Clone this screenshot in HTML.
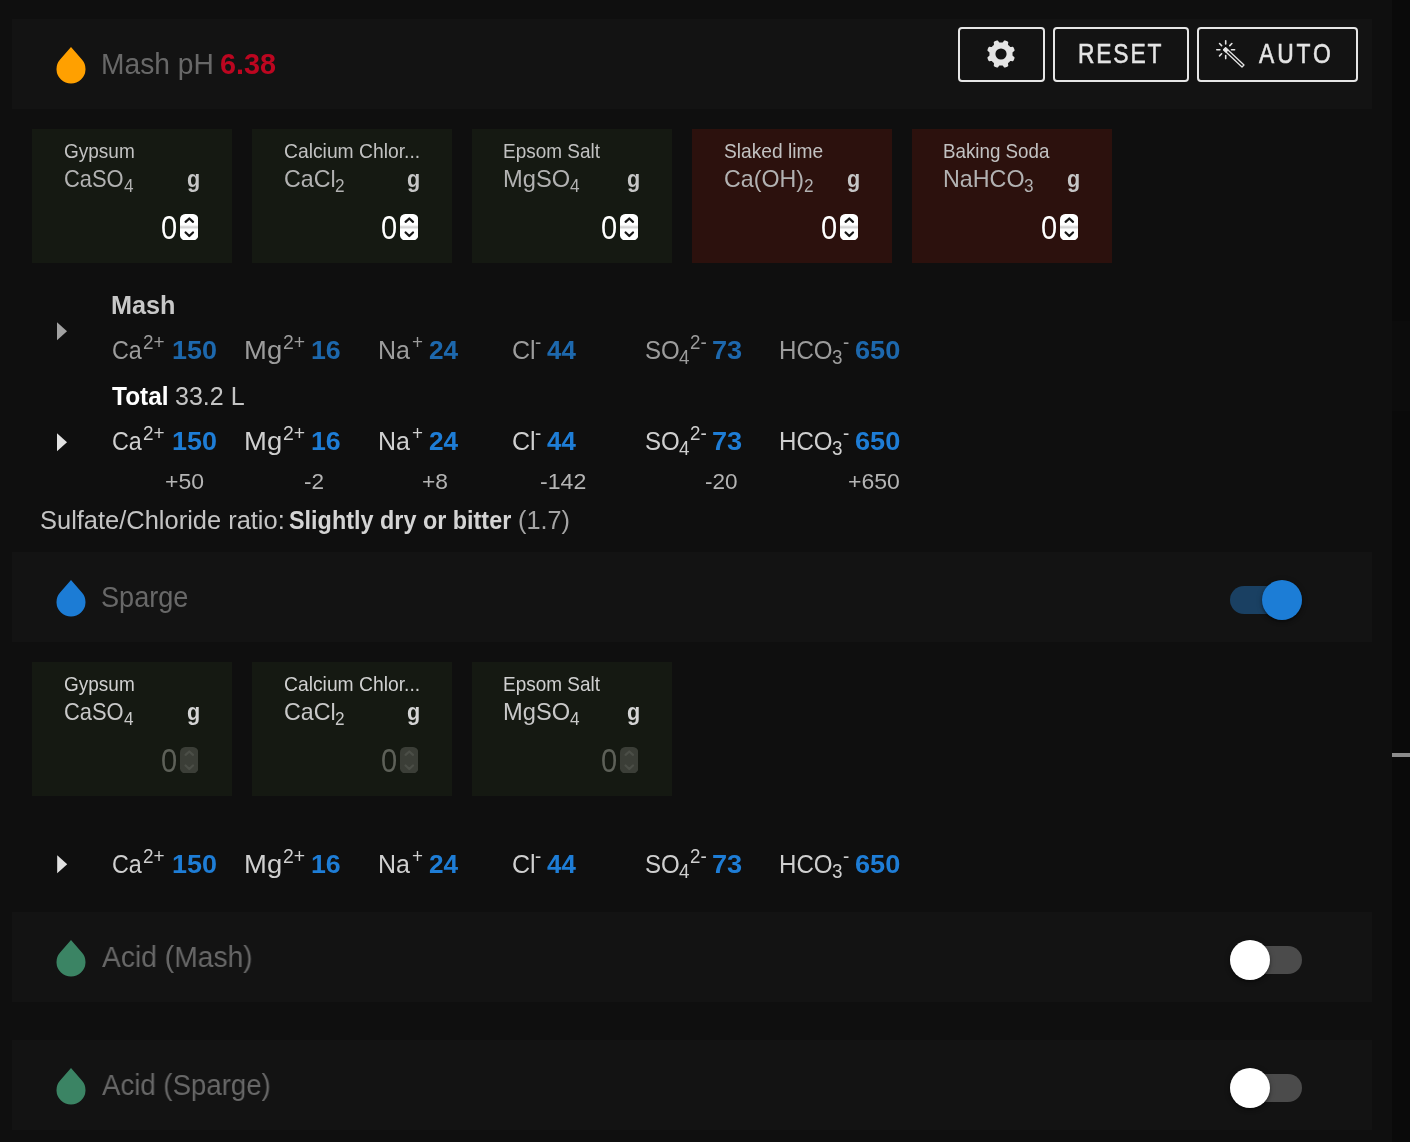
<!DOCTYPE html>
<html lang="en"><head><meta charset="utf-8"><title>Water</title>
<style>
html,body{margin:0;padding:0;background:#0f0f0f;}
body{width:1410px;height:1142px;position:relative;overflow:hidden;font-family:"Liberation Sans",sans-serif;}
.a{position:absolute;display:block;}
.t{position:absolute;display:block;white-space:nowrap;line-height:1;transform-origin:0 0;font-family:"Liberation Sans",sans-serif;}
.bar{left:12px;width:1360px;height:90px;background:#131313;}
.btn{box-sizing:border-box;border:2px solid #e6e6e6;border-radius:4px;}
.th{width:40px;height:40px;border-radius:50%;box-shadow:0 2px 3px rgba(0,0,0,.35),0 1px 6px rgba(0,0,0,.2);}
#L{position:absolute;left:0;top:0;width:1410px;height:1142px;will-change:transform;}
</style></head><body><div id="L">
<svg width="0" height="0" style="position:absolute"><defs><linearGradient id="spg" x1="0" y1="0" x2="0" y2="1"><stop offset="0" stop-color="#fff"/><stop offset=".5" stop-color="#cfcfcf"/><stop offset="1" stop-color="#fff"/></linearGradient></defs></svg>
<div class="a" style="left:1392px;top:0;width:18px;height:1142px;background:#0a0a0a"></div>
<div class="a" style="left:1392px;top:321px;width:18px;height:90px;background:#0c0c0c"></div>
<div class="a" style="left:1392px;top:753px;width:18px;height:4px;background:#8c8c8c"></div>
<div class="a bar" style="top:19px"></div>
<div class="a bar" style="top:552px"></div>
<div class="a bar" style="top:912px"></div>
<div class="a bar" style="top:1040px"></div>
<svg class="a" style="left:55px;top:44.9px" width="32" height="42" viewBox="55 44.9 32 42"><path fill="#ffa000" d="M71 46.9 L60.10 59.34 A14.5 14.5 0 1 0 81.90 59.34 Z"/></svg>
<svg class="a" style="left:55px;top:577.9px" width="32" height="42" viewBox="55 577.9 32 42"><path fill="#1c7cd5" d="M71 579.9 L60.10 592.34 A14.5 14.5 0 1 0 81.90 592.34 Z"/></svg>
<svg class="a" style="left:55px;top:937.9px" width="32" height="42" viewBox="55 937.9 32 42"><path fill="#3b8464" d="M71 939.9 L60.10 952.34 A14.5 14.5 0 1 0 81.90 952.34 Z"/></svg>
<svg class="a" style="left:55px;top:1065.9px" width="32" height="42" viewBox="55 1065.9 32 42"><path fill="#3b8464" d="M71 1067.9 L60.10 1080.34 A14.5 14.5 0 1 0 81.90 1080.34 Z"/></svg>
<div class="a btn" style="left:958px;top:27px;width:87px;height:55px"></div>
<div class="a btn" style="left:1053px;top:27px;width:136px;height:55px"></div>
<div class="a btn" style="left:1197px;top:27px;width:161px;height:55px"></div>
<svg class="a" style="left:984.1px;top:37.2px" width="34" height="34" viewBox="984.1 37.2 34 34"><path fill="#e4e4e4" fill-rule="evenodd" d="M1001.10 42.66 L1001.40 42.67 L1001.70 42.67 L1002.01 42.69 L1002.31 42.69 L1002.62 42.64 L1002.96 42.46 L1003.37 41.96 L1003.86 41.24 L1004.32 40.77 L1004.74 40.63 L1005.11 40.66 L1005.47 40.74 L1005.83 40.85 L1006.18 40.98 L1006.52 41.11 L1006.86 41.26 L1007.20 41.42 L1007.52 41.59 L1007.84 41.79 L1008.12 42.04 L1008.32 42.42 L1008.32 43.09 L1008.15 43.94 L1008.09 44.58 L1008.20 44.95 L1008.39 45.20 L1008.60 45.42 L1008.82 45.62 L1009.04 45.83 L1009.26 46.04 L1009.47 46.26 L1009.68 46.48 L1009.88 46.70 L1010.10 46.91 L1010.35 47.10 L1010.72 47.21 L1011.36 47.15 L1012.21 46.98 L1012.88 46.98 L1013.26 47.18 L1013.51 47.46 L1013.71 47.78 L1013.88 48.10 L1014.04 48.44 L1014.19 48.78 L1014.32 49.12 L1014.45 49.47 L1014.56 49.83 L1014.64 50.19 L1014.67 50.56 L1014.53 50.98 L1014.06 51.44 L1013.34 51.93 L1012.84 52.34 L1012.66 52.68 L1012.61 52.99 L1012.61 53.29 L1012.63 53.60 L1012.63 53.90 L1012.64 54.20 L1012.63 54.50 L1012.63 54.80 L1012.61 55.11 L1012.61 55.41 L1012.66 55.72 L1012.84 56.06 L1013.34 56.47 L1014.06 56.96 L1014.53 57.42 L1014.67 57.84 L1014.64 58.21 L1014.56 58.57 L1014.45 58.93 L1014.32 59.28 L1014.19 59.62 L1014.04 59.96 L1013.88 60.30 L1013.71 60.62 L1013.51 60.94 L1013.26 61.22 L1012.88 61.42 L1012.21 61.42 L1011.36 61.25 L1010.72 61.19 L1010.35 61.30 L1010.10 61.49 L1009.88 61.70 L1009.68 61.92 L1009.47 62.14 L1009.26 62.36 L1009.04 62.57 L1008.82 62.78 L1008.60 62.98 L1008.39 63.20 L1008.20 63.45 L1008.09 63.82 L1008.15 64.46 L1008.32 65.31 L1008.32 65.98 L1008.12 66.36 L1007.84 66.61 L1007.52 66.81 L1007.20 66.98 L1006.86 67.14 L1006.52 67.29 L1006.18 67.42 L1005.83 67.55 L1005.47 67.66 L1005.11 67.74 L1004.74 67.77 L1004.32 67.63 L1003.86 67.16 L1003.37 66.44 L1002.96 65.94 L1002.62 65.76 L1002.31 65.71 L1002.01 65.71 L1001.70 65.73 L1001.40 65.73 L1001.10 65.74 L1000.80 65.73 L1000.50 65.73 L1000.19 65.71 L999.89 65.71 L999.58 65.76 L999.24 65.94 L998.83 66.44 L998.34 67.16 L997.88 67.63 L997.46 67.77 L997.09 67.74 L996.73 67.66 L996.37 67.55 L996.02 67.42 L995.68 67.29 L995.34 67.14 L995.00 66.98 L994.68 66.81 L994.36 66.61 L994.08 66.36 L993.88 65.98 L993.88 65.31 L994.05 64.46 L994.11 63.82 L994.00 63.45 L993.81 63.20 L993.60 62.98 L993.38 62.78 L993.16 62.57 L992.94 62.36 L992.73 62.14 L992.52 61.92 L992.32 61.70 L992.10 61.49 L991.85 61.30 L991.48 61.19 L990.84 61.25 L989.99 61.42 L989.32 61.42 L988.94 61.22 L988.69 60.94 L988.49 60.62 L988.32 60.30 L988.16 59.96 L988.01 59.62 L987.88 59.28 L987.75 58.93 L987.64 58.57 L987.56 58.21 L987.53 57.84 L987.67 57.42 L988.14 56.96 L988.86 56.47 L989.36 56.06 L989.54 55.72 L989.59 55.41 L989.59 55.11 L989.57 54.80 L989.57 54.50 L989.56 54.20 L989.57 53.90 L989.57 53.60 L989.59 53.29 L989.59 52.99 L989.54 52.68 L989.36 52.34 L988.86 51.93 L988.14 51.44 L987.67 50.98 L987.53 50.56 L987.56 50.19 L987.64 49.83 L987.75 49.47 L987.88 49.12 L988.01 48.78 L988.16 48.44 L988.32 48.10 L988.49 47.78 L988.69 47.46 L988.94 47.18 L989.32 46.98 L989.99 46.98 L990.84 47.15 L991.48 47.21 L991.85 47.10 L992.10 46.91 L992.32 46.70 L992.52 46.48 L992.73 46.26 L992.94 46.04 L993.16 45.83 L993.38 45.62 L993.60 45.42 L993.81 45.20 L994.00 44.95 L994.11 44.58 L994.05 43.94 L993.88 43.09 L993.88 42.42 L994.08 42.04 L994.36 41.79 L994.68 41.59 L995.00 41.42 L995.34 41.26 L995.68 41.11 L996.02 40.98 L996.37 40.85 L996.73 40.74 L997.09 40.66 L997.46 40.63 L997.88 40.77 L998.34 41.24 L998.83 41.96 L999.24 42.46 L999.58 42.64 L999.89 42.69 L1000.19 42.69 L1000.50 42.67 L1000.80 42.67 Z M1006.70 54.2 A5.6 5.6 0 1 0 995.50 54.2 A5.6 5.6 0 1 0 1006.70 54.2 Z"/></svg>
<svg class="a" style="left:1212px;top:36px" width="36" height="36" viewBox="1212 36 36 36"><path d="M1225.70 43.90 L1225.70 40.80 M1229.80 45.60 L1231.85 43.55 M1231.50 49.70 L1234.60 49.70 M1225.70 55.50 L1225.70 58.60 M1221.60 53.80 L1219.55 55.85 M1219.90 49.70 L1216.80 49.70 M1221.60 45.60 L1219.55 43.55" stroke="#e4e4e4" stroke-width="1.6" stroke-linecap="round" fill="none"/><path d="M1225.59 47.81 L1243.99 65.01 L1242.01 66.99 L1223.61 49.79 Z" stroke="#e4e4e4" stroke-width="1.3" fill="#131313" stroke-linejoin="round"/><path d="M1225.59 47.81 L1227.99 50.21 L1226.01 52.19 L1223.61 49.79 Z" fill="#e4e4e4" stroke="#e4e4e4" stroke-width="1.15" stroke-linejoin="round"/></svg>
<div class="a" style="left:32px;top:129px;width:200px;height:134px;background:#151912"></div>
<svg class="a" style="left:179.8px;top:213.7px" width="18.3" height="26.4" viewBox="0 0 18.3 26.4"><rect width="18.3" height="26.4" rx="5.2" fill="#ffffff"/><rect x="0" y="11.00" width="18.3" height="4.4" fill="url(#spg)"/><path d="M5.6000000000000005 7.8 L9.3 4.5 L13.0 7.8 M5.6000000000000005 18.5 L9.3 22.0 L13.0 18.5" fill="none" stroke="#161616" stroke-width="2.3" stroke-linecap="round" stroke-linejoin="round"/></svg>
<div class="a" style="left:252px;top:129px;width:200px;height:134px;background:#151912"></div>
<svg class="a" style="left:399.8px;top:213.7px" width="18.3" height="26.4" viewBox="0 0 18.3 26.4"><rect width="18.3" height="26.4" rx="5.2" fill="#ffffff"/><rect x="0" y="11.00" width="18.3" height="4.4" fill="url(#spg)"/><path d="M5.6000000000000005 7.8 L9.3 4.5 L13.0 7.8 M5.6000000000000005 18.5 L9.3 22.0 L13.0 18.5" fill="none" stroke="#161616" stroke-width="2.3" stroke-linecap="round" stroke-linejoin="round"/></svg>
<div class="a" style="left:472px;top:129px;width:200px;height:134px;background:#151912"></div>
<svg class="a" style="left:619.8px;top:213.7px" width="18.3" height="26.4" viewBox="0 0 18.3 26.4"><rect width="18.3" height="26.4" rx="5.2" fill="#ffffff"/><rect x="0" y="11.00" width="18.3" height="4.4" fill="url(#spg)"/><path d="M5.6000000000000005 7.8 L9.3 4.5 L13.0 7.8 M5.6000000000000005 18.5 L9.3 22.0 L13.0 18.5" fill="none" stroke="#161616" stroke-width="2.3" stroke-linecap="round" stroke-linejoin="round"/></svg>
<div class="a" style="left:692px;top:129px;width:200px;height:134px;background:#2c110d"></div>
<svg class="a" style="left:839.8px;top:213.7px" width="18.3" height="26.4" viewBox="0 0 18.3 26.4"><rect width="18.3" height="26.4" rx="5.2" fill="#ffffff"/><rect x="0" y="11.00" width="18.3" height="4.4" fill="url(#spg)"/><path d="M5.6000000000000005 7.8 L9.3 4.5 L13.0 7.8 M5.6000000000000005 18.5 L9.3 22.0 L13.0 18.5" fill="none" stroke="#161616" stroke-width="2.3" stroke-linecap="round" stroke-linejoin="round"/></svg>
<div class="a" style="left:912px;top:129px;width:200px;height:134px;background:#2c110d"></div>
<svg class="a" style="left:1059.8px;top:213.7px" width="18.3" height="26.4" viewBox="0 0 18.3 26.4"><rect width="18.3" height="26.4" rx="5.2" fill="#ffffff"/><rect x="0" y="11.00" width="18.3" height="4.4" fill="url(#spg)"/><path d="M5.6000000000000005 7.8 L9.3 4.5 L13.0 7.8 M5.6000000000000005 18.5 L9.3 22.0 L13.0 18.5" fill="none" stroke="#161616" stroke-width="2.3" stroke-linecap="round" stroke-linejoin="round"/></svg>
<div class="a" style="left:32px;top:662px;width:200px;height:134px;background:#151912"></div>
<svg class="a" style="left:179.8px;top:746.7px" width="18.3" height="26.4" viewBox="0 0 18.3 26.4"><rect width="18.3" height="26.4" rx="5.2" fill="#3b3e37"/><path d="M5.6000000000000005 7.8 L9.3 4.5 L13.0 7.8 M5.6000000000000005 18.5 L9.3 22.0 L13.0 18.5" fill="none" stroke="#4b4e47" stroke-width="2.3" stroke-linecap="round" stroke-linejoin="round"/></svg>
<div class="a" style="left:252px;top:662px;width:200px;height:134px;background:#151912"></div>
<svg class="a" style="left:399.8px;top:746.7px" width="18.3" height="26.4" viewBox="0 0 18.3 26.4"><rect width="18.3" height="26.4" rx="5.2" fill="#3b3e37"/><path d="M5.6000000000000005 7.8 L9.3 4.5 L13.0 7.8 M5.6000000000000005 18.5 L9.3 22.0 L13.0 18.5" fill="none" stroke="#4b4e47" stroke-width="2.3" stroke-linecap="round" stroke-linejoin="round"/></svg>
<div class="a" style="left:472px;top:662px;width:200px;height:134px;background:#151912"></div>
<svg class="a" style="left:619.8px;top:746.7px" width="18.3" height="26.4" viewBox="0 0 18.3 26.4"><rect width="18.3" height="26.4" rx="5.2" fill="#3b3e37"/><path d="M5.6000000000000005 7.8 L9.3 4.5 L13.0 7.8 M5.6000000000000005 18.5 L9.3 22.0 L13.0 18.5" fill="none" stroke="#4b4e47" stroke-width="2.3" stroke-linecap="round" stroke-linejoin="round"/></svg>
<svg class="a" style="left:56px;top:321px" width="14" height="22" viewBox="56 321 14 22"><path fill="#a2a2a2" d="M57.0 322.2 L67.0 331.2 L57.0 340.2 Z"/></svg>
<svg class="a" style="left:56px;top:432px" width="14" height="22" viewBox="56 432 14 22"><path fill="#e2e2e2" d="M57.0 433.3 L67.0 442.3 L57.0 451.3 Z"/></svg>
<svg class="a" style="left:56px;top:854px" width="14" height="22" viewBox="56 854 14 22"><path fill="#e2e2e2" d="M57.2 855.3 L67.2 864.3 L57.2 873.3 Z"/></svg>
<div class="a" style="left:1230px;top:586px;width:72px;height:28px;border-radius:14px;background:#1a4062"></div><div class="a th" style="left:1262px;top:580px;background:#1c7dd6"></div>
<div class="a" style="left:1230px;top:946px;width:72px;height:28px;border-radius:14px;background:#4b4b4b"></div><div class="a th" style="left:1230px;top:940px;background:#ffffff"></div>
<div class="a" style="left:1230px;top:1074px;width:72px;height:28px;border-radius:14px;background:#4b4b4b"></div><div class="a th" style="left:1230px;top:1068px;background:#ffffff"></div>
<span class="t" style="left:101.10px;top:49px;font-size:29.50px;color:#686868;transform:scaleX(0.9551);">Mash pH</span>
<span class="t" style="left:220.34px;top:49px;font-size:29.50px;color:#bc0620;font-weight:700;transform:scaleX(0.9754);">6.38</span>
<span class="t" style="left:101.39px;top:582px;font-size:29.50px;color:#686868;transform:scaleX(0.9193);">Sparge</span>
<span class="t" style="left:102.00px;top:942px;font-size:29.50px;color:#686868;transform:scaleX(0.9569);">Acid (Mash)</span>
<span class="t" style="left:102.00px;top:1070px;font-size:29.50px;color:#686868;transform:scaleX(0.9355);">Acid (Sparge)</span>
<span class="t" style="left:1078.04px;top:40px;font-size:27.50px;color:#e4e4e4;letter-spacing:2.208px;-webkit-text-stroke:0.55px #e4e4e4;transform:scaleX(0.8300);">RESET</span>
<span class="t" style="left:1259.20px;top:40px;font-size:27.50px;color:#e4e4e4;letter-spacing:3.540px;-webkit-text-stroke:0.55px #e4e4e4;transform:scaleX(0.8300);">AUTO</span>
<span class="t" style="left:63.97px;top:141px;font-size:20.25px;color:#c2c2c2;transform:scaleX(0.9387);">Gypsum</span>
<span class="t" style="left:64.30px;top:167px;font-size:24.00px;color:#b2b2b2;transform:scaleX(0.9126);">CaSO</span>
<span class="t" style="left:124.05px;top:177px;font-size:18.50px;color:#b2b2b2;transform:scaleX(0.9300);">4</span>
<span class="t" style="left:186.80px;top:167px;font-size:24.00px;color:#c6c6c6;font-weight:700;transform:scaleX(0.9000);">g</span>
<span class="t" style="left:160.74px;top:211px;font-size:33.00px;color:#ffffff;transform:scaleX(0.8800);">0</span>
<span class="t" style="left:283.95px;top:141px;font-size:20.25px;color:#c2c2c2;transform:scaleX(0.9529);">Calcium Chlor...</span>
<span class="t" style="left:284.24px;top:167px;font-size:24.00px;color:#b2b2b2;transform:scaleX(0.9673);">CaCl</span>
<span class="t" style="left:334.95px;top:177px;font-size:18.50px;color:#b2b2b2;transform:scaleX(0.9300);">2</span>
<span class="t" style="left:406.80px;top:167px;font-size:24.00px;color:#c6c6c6;font-weight:700;transform:scaleX(0.9000);">g</span>
<span class="t" style="left:380.74px;top:211px;font-size:33.00px;color:#ffffff;transform:scaleX(0.8800);">0</span>
<span class="t" style="left:503.00px;top:141px;font-size:20.25px;color:#c2c2c2;transform:scaleX(0.9367);">Epsom Salt</span>
<span class="t" style="left:503.00px;top:167px;font-size:24.00px;color:#b2b2b2;transform:scaleX(0.9866);">MgSO</span>
<span class="t" style="left:570.35px;top:177px;font-size:18.50px;color:#b2b2b2;transform:scaleX(0.9300);">4</span>
<span class="t" style="left:626.80px;top:167px;font-size:24.00px;color:#c6c6c6;font-weight:700;transform:scaleX(0.9000);">g</span>
<span class="t" style="left:600.74px;top:211px;font-size:33.00px;color:#ffffff;transform:scaleX(0.8800);">0</span>
<span class="t" style="left:724.00px;top:141px;font-size:20.25px;color:#c2c2c2;transform:scaleX(0.9476);">Slaked lime</span>
<span class="t" style="left:724.24px;top:167px;font-size:24.00px;color:#b2b2b2;transform:scaleX(0.9670);">Ca(OH)</span>
<span class="t" style="left:803.65px;top:177px;font-size:18.50px;color:#b2b2b2;transform:scaleX(0.9300);">2</span>
<span class="t" style="left:846.80px;top:167px;font-size:24.00px;color:#c6c6c6;font-weight:700;transform:scaleX(0.9000);">g</span>
<span class="t" style="left:820.74px;top:211px;font-size:33.00px;color:#ffffff;transform:scaleX(0.8800);">0</span>
<span class="t" style="left:943.00px;top:141px;font-size:20.25px;color:#c2c2c2;transform:scaleX(0.9265);">Baking Soda</span>
<span class="t" style="left:943.00px;top:167px;font-size:24.00px;color:#b2b2b2;transform:scaleX(0.9703);">NaHCO</span>
<span class="t" style="left:1024.00px;top:177px;font-size:18.50px;color:#b2b2b2;transform:scaleX(0.9300);">3</span>
<span class="t" style="left:1066.80px;top:167px;font-size:24.00px;color:#c6c6c6;font-weight:700;transform:scaleX(0.9000);">g</span>
<span class="t" style="left:1040.74px;top:211px;font-size:33.00px;color:#ffffff;transform:scaleX(0.8800);">0</span>
<span class="t" style="left:63.97px;top:674px;font-size:20.25px;color:#d0d0d0;transform:scaleX(0.9387);">Gypsum</span>
<span class="t" style="left:64.30px;top:700px;font-size:24.00px;color:#c8c8c8;transform:scaleX(0.9126);">CaSO</span>
<span class="t" style="left:124.05px;top:710px;font-size:18.50px;color:#c8c8c8;transform:scaleX(0.9300);">4</span>
<span class="t" style="left:186.80px;top:700px;font-size:24.00px;color:#d4d4d4;font-weight:700;transform:scaleX(0.9000);">g</span>
<span class="t" style="left:160.74px;top:744px;font-size:33.00px;color:#5d6058;transform:scaleX(0.8800);">0</span>
<span class="t" style="left:283.95px;top:674px;font-size:20.25px;color:#d0d0d0;transform:scaleX(0.9529);">Calcium Chlor...</span>
<span class="t" style="left:284.24px;top:700px;font-size:24.00px;color:#c8c8c8;transform:scaleX(0.9673);">CaCl</span>
<span class="t" style="left:334.95px;top:710px;font-size:18.50px;color:#c8c8c8;transform:scaleX(0.9300);">2</span>
<span class="t" style="left:406.80px;top:700px;font-size:24.00px;color:#d4d4d4;font-weight:700;transform:scaleX(0.9000);">g</span>
<span class="t" style="left:380.74px;top:744px;font-size:33.00px;color:#5d6058;transform:scaleX(0.8800);">0</span>
<span class="t" style="left:503.00px;top:674px;font-size:20.25px;color:#d0d0d0;transform:scaleX(0.9367);">Epsom Salt</span>
<span class="t" style="left:503.00px;top:700px;font-size:24.00px;color:#c8c8c8;transform:scaleX(0.9866);">MgSO</span>
<span class="t" style="left:570.35px;top:710px;font-size:18.50px;color:#c8c8c8;transform:scaleX(0.9300);">4</span>
<span class="t" style="left:626.80px;top:700px;font-size:24.00px;color:#d4d4d4;font-weight:700;transform:scaleX(0.9000);">g</span>
<span class="t" style="left:600.74px;top:744px;font-size:33.00px;color:#5d6058;transform:scaleX(0.8800);">0</span>
<span class="t" style="left:112.33px;top:338px;font-size:25.75px;color:#9c9c9c;transform:scaleX(0.9065);">Ca</span>
<span class="t" style="left:143.37px;top:332px;font-size:20.25px;color:#9c9c9c;transform:scaleX(0.9363);">2+</span>
<span class="t" style="left:172.19px;top:338px;font-size:25.75px;color:#1d68ad;font-weight:700;transform:scaleX(1.0457);">150</span>
<span class="t" style="left:244.00px;top:338px;font-size:25.75px;color:#9c9c9c;letter-spacing:0.217px;transform:scaleX(1.0652);">Mg</span>
<span class="t" style="left:282.65px;top:332px;font-size:20.25px;color:#9c9c9c;transform:scaleX(0.9599);">2+</span>
<span class="t" style="left:311.00px;top:338px;font-size:25.75px;color:#1d68ad;font-weight:700;transform:scaleX(1.0379);">16</span>
<span class="t" style="left:378.00px;top:338px;font-size:25.75px;color:#9c9c9c;transform:scaleX(0.9693);">Na</span>
<span class="t" style="left:412.33px;top:332px;font-size:20.25px;color:#9c9c9c;transform:scaleX(0.9300);">+</span>
<span class="t" style="left:429.00px;top:338px;font-size:25.75px;color:#1d68ad;font-weight:700;transform:scaleX(1.0162);">24</span>
<span class="t" style="left:512.24px;top:338px;font-size:25.75px;color:#9c9c9c;transform:scaleX(0.9737);">Cl</span>
<span class="t" style="left:535.06px;top:332px;font-size:20.25px;color:#9c9c9c;transform:scaleX(0.9300);">-</span>
<span class="t" style="left:547.00px;top:338px;font-size:25.75px;color:#1d68ad;font-weight:700;transform:scaleX(1.0044);">44</span>
<span class="t" style="left:645.09px;top:338px;font-size:25.75px;color:#9c9c9c;transform:scaleX(0.9336);">SO</span>
<span class="t" style="left:678.88px;top:347px;font-size:20.25px;color:#9c9c9c;transform:scaleX(0.9300);">4</span>
<span class="t" style="left:689.68px;top:332px;font-size:20.25px;color:#9c9c9c;transform:scaleX(0.9264);">2-</span>
<span class="t" style="left:711.97px;top:338px;font-size:25.75px;color:#1d68ad;font-weight:700;transform:scaleX(1.0550);">73</span>
<span class="t" style="left:778.74px;top:338px;font-size:25.75px;color:#9c9c9c;transform:scaleX(0.9355);">HCO</span>
<span class="t" style="left:832.18px;top:347px;font-size:20.25px;color:#9c9c9c;transform:scaleX(0.9300);">3</span>
<span class="t" style="left:842.96px;top:332px;font-size:20.25px;color:#9c9c9c;transform:scaleX(0.9300);">-</span>
<span class="t" style="left:855.00px;top:338px;font-size:25.75px;color:#1d68ad;font-weight:700;transform:scaleX(1.0536);">650</span>
<span class="t" style="left:112.33px;top:429px;font-size:25.75px;color:#cfcfcf;transform:scaleX(0.9065);">Ca</span>
<span class="t" style="left:143.37px;top:423px;font-size:20.25px;color:#cfcfcf;transform:scaleX(0.9363);">2+</span>
<span class="t" style="left:172.19px;top:429px;font-size:25.75px;color:#1e7dd6;font-weight:700;transform:scaleX(1.0457);">150</span>
<span class="t" style="left:244.00px;top:429px;font-size:25.75px;color:#cfcfcf;letter-spacing:0.217px;transform:scaleX(1.0652);">Mg</span>
<span class="t" style="left:282.65px;top:423px;font-size:20.25px;color:#cfcfcf;transform:scaleX(0.9599);">2+</span>
<span class="t" style="left:311.00px;top:429px;font-size:25.75px;color:#1e7dd6;font-weight:700;transform:scaleX(1.0379);">16</span>
<span class="t" style="left:378.00px;top:429px;font-size:25.75px;color:#cfcfcf;transform:scaleX(0.9693);">Na</span>
<span class="t" style="left:412.33px;top:423px;font-size:20.25px;color:#cfcfcf;transform:scaleX(0.9300);">+</span>
<span class="t" style="left:429.00px;top:429px;font-size:25.75px;color:#1e7dd6;font-weight:700;transform:scaleX(1.0162);">24</span>
<span class="t" style="left:512.24px;top:429px;font-size:25.75px;color:#cfcfcf;transform:scaleX(0.9737);">Cl</span>
<span class="t" style="left:535.06px;top:423px;font-size:20.25px;color:#cfcfcf;transform:scaleX(0.9300);">-</span>
<span class="t" style="left:547.00px;top:429px;font-size:25.75px;color:#1e7dd6;font-weight:700;transform:scaleX(1.0044);">44</span>
<span class="t" style="left:645.09px;top:429px;font-size:25.75px;color:#cfcfcf;transform:scaleX(0.9336);">SO</span>
<span class="t" style="left:678.88px;top:438px;font-size:20.25px;color:#cfcfcf;transform:scaleX(0.9300);">4</span>
<span class="t" style="left:689.68px;top:423px;font-size:20.25px;color:#cfcfcf;transform:scaleX(0.9264);">2-</span>
<span class="t" style="left:711.97px;top:429px;font-size:25.75px;color:#1e7dd6;font-weight:700;transform:scaleX(1.0550);">73</span>
<span class="t" style="left:778.74px;top:429px;font-size:25.75px;color:#cfcfcf;transform:scaleX(0.9355);">HCO</span>
<span class="t" style="left:832.18px;top:438px;font-size:20.25px;color:#cfcfcf;transform:scaleX(0.9300);">3</span>
<span class="t" style="left:842.96px;top:423px;font-size:20.25px;color:#cfcfcf;transform:scaleX(0.9300);">-</span>
<span class="t" style="left:855.00px;top:429px;font-size:25.75px;color:#1e7dd6;font-weight:700;transform:scaleX(1.0536);">650</span>
<span class="t" style="left:112.33px;top:852px;font-size:25.75px;color:#cfcfcf;transform:scaleX(0.9065);">Ca</span>
<span class="t" style="left:143.37px;top:846px;font-size:20.25px;color:#cfcfcf;transform:scaleX(0.9363);">2+</span>
<span class="t" style="left:172.19px;top:852px;font-size:25.75px;color:#1e7dd6;font-weight:700;transform:scaleX(1.0457);">150</span>
<span class="t" style="left:244.00px;top:852px;font-size:25.75px;color:#cfcfcf;letter-spacing:0.217px;transform:scaleX(1.0652);">Mg</span>
<span class="t" style="left:282.65px;top:846px;font-size:20.25px;color:#cfcfcf;transform:scaleX(0.9599);">2+</span>
<span class="t" style="left:311.00px;top:852px;font-size:25.75px;color:#1e7dd6;font-weight:700;transform:scaleX(1.0379);">16</span>
<span class="t" style="left:378.00px;top:852px;font-size:25.75px;color:#cfcfcf;transform:scaleX(0.9693);">Na</span>
<span class="t" style="left:412.33px;top:846px;font-size:20.25px;color:#cfcfcf;transform:scaleX(0.9300);">+</span>
<span class="t" style="left:429.00px;top:852px;font-size:25.75px;color:#1e7dd6;font-weight:700;transform:scaleX(1.0162);">24</span>
<span class="t" style="left:512.24px;top:852px;font-size:25.75px;color:#cfcfcf;transform:scaleX(0.9737);">Cl</span>
<span class="t" style="left:535.06px;top:846px;font-size:20.25px;color:#cfcfcf;transform:scaleX(0.9300);">-</span>
<span class="t" style="left:547.00px;top:852px;font-size:25.75px;color:#1e7dd6;font-weight:700;transform:scaleX(1.0044);">44</span>
<span class="t" style="left:645.09px;top:852px;font-size:25.75px;color:#cfcfcf;transform:scaleX(0.9336);">SO</span>
<span class="t" style="left:678.88px;top:861px;font-size:20.25px;color:#cfcfcf;transform:scaleX(0.9300);">4</span>
<span class="t" style="left:689.68px;top:846px;font-size:20.25px;color:#cfcfcf;transform:scaleX(0.9264);">2-</span>
<span class="t" style="left:711.97px;top:852px;font-size:25.75px;color:#1e7dd6;font-weight:700;transform:scaleX(1.0550);">73</span>
<span class="t" style="left:778.74px;top:852px;font-size:25.75px;color:#cfcfcf;transform:scaleX(0.9355);">HCO</span>
<span class="t" style="left:832.18px;top:861px;font-size:20.25px;color:#cfcfcf;transform:scaleX(0.9300);">3</span>
<span class="t" style="left:842.96px;top:846px;font-size:20.25px;color:#cfcfcf;transform:scaleX(0.9300);">-</span>
<span class="t" style="left:855.00px;top:852px;font-size:25.75px;color:#1e7dd6;font-weight:700;transform:scaleX(1.0536);">650</span>
<span class="t" style="left:111.00px;top:293px;font-size:25.75px;color:#c8c8c8;font-weight:700;transform:scaleX(0.9802);">Mash</span>
<span class="t" style="left:112.00px;top:384px;font-size:25.75px;color:#ffffff;font-weight:700;transform:scaleX(0.9501);">Total</span>
<span class="t" style="left:175.00px;top:384px;font-size:25.75px;color:#c4c4c4;transform:scaleX(0.9719);">33.2 L</span>
<span class="t" style="left:164.97px;top:471px;font-size:22.00px;color:#b4b4b4;transform:scaleX(1.0447);">+50</span>
<span class="t" style="left:304.00px;top:471px;font-size:22.00px;color:#b4b4b4;transform:scaleX(1.0241);">-2</span>
<span class="t" style="left:422.19px;top:471px;font-size:22.00px;color:#b4b4b4;transform:scaleX(1.0369);">+8</span>
<span class="t" style="left:540.00px;top:471px;font-size:22.00px;color:#b4b4b4;transform:scaleX(1.0504);">-142</span>
<span class="t" style="left:705.00px;top:471px;font-size:22.00px;color:#b4b4b4;transform:scaleX(1.0249);">-20</span>
<span class="t" style="left:848.07px;top:471px;font-size:22.00px;color:#b4b4b4;transform:scaleX(1.0473);">+650</span>
<span class="t" style="left:40.11px;top:508px;font-size:25.75px;color:#c4c4c4;transform:scaleX(0.9884);">Sulfate/Chloride ratio:</span>
<span class="t" style="left:289.00px;top:508px;font-size:25.75px;color:#d4d4d4;font-weight:700;transform:scaleX(0.9085);">Slightly dry or bitter</span>
<span class="t" style="left:518.43px;top:508px;font-size:25.75px;color:#a4a4a4;transform:scaleX(0.9803);">(1.7)</span>
</div></body></html>
